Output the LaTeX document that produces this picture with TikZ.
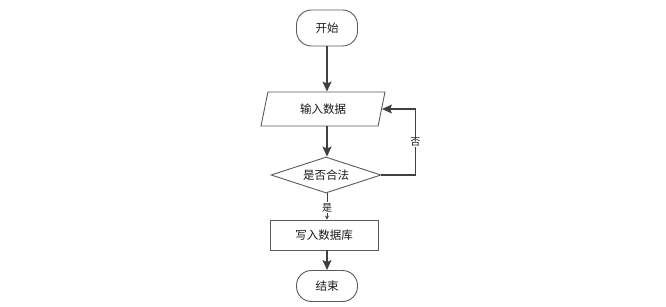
\documentclass[tikz,border=0pt]{standalone}
\usepackage{fontspec}
\newfontfamily\cjk{Noto Sans CJK SC}
\usetikzlibrary{arrows.meta,shapes.geometric}

\begin{document}
\begin{tikzpicture}[x=1pt,y=-1pt,
    every node/.style={font=\cjk\fontsize{11.5}{13}\selectfont,text=black!90},
    terminal/.style={draw=shapegray,line width=0.9pt,rounded corners=15pt,
        minimum width=61pt,inner sep=0pt},
    inputbox/.style={draw=shapegray,line width=0.9pt,trapezium,
        trapezium left angle=57,trapezium right angle=123,
        trapezium stretches body,minimum width=124pt,minimum height=34pt,inner sep=0pt},
    decide/.style={draw=shapegray,line width=0.9pt,diamond,aspect=3,
        minimum width=110pt,minimum height=36pt,inner sep=0pt},
    process/.style={draw=shapegray,line width=0.9pt,rectangle,
        minimum width=108pt,minimum height=30pt,inner sep=0pt},
    flow/.style={draw=linegray,line width=1.2pt,-{Stealth[length=10pt,width=9pt,inset=2pt]}},
    tag/.style={fill=white,inner sep=1pt,font=\cjk\fontsize{10}{12}\selectfont}]
    \definecolor{shapegray}{RGB}{90,90,90}
    \definecolor{linegray}{RGB}{64,64,64}

    \useasboundingbox (0,0) rectangle (666,307);

    % shapes
    \node[terminal,minimum height=36pt] (start) at (327,28) {开始};
    \node[inputbox] (input) at (323,109) {输入数据};
    \node[decide] (check) at (326,175) {是否合法};
    \node[process] (write) at (324,235) {写入数据库};
    \node[terminal,minimum height=31pt] (stop) at (327,286) {结束};

    % main flow
    \draw[flow] (start) -- (start |- input.north);
    \draw[flow] (input.south -| start) -- (check.north -| start);
    \draw[draw=linegray,line width=0.9pt,-{Stealth[length=4pt,width=4pt]}]
        (check.south -| start) -- node[tag,pos=0.55]{是} (write.north -| start);
    \draw[flow] (write.south -| start) -- (stop);

    % back to input
    \draw[flow] (check.east) -- ++(34,0) |- node[tag,pos=0.25]{否} (input.east);
\end{tikzpicture}
\end{document}
